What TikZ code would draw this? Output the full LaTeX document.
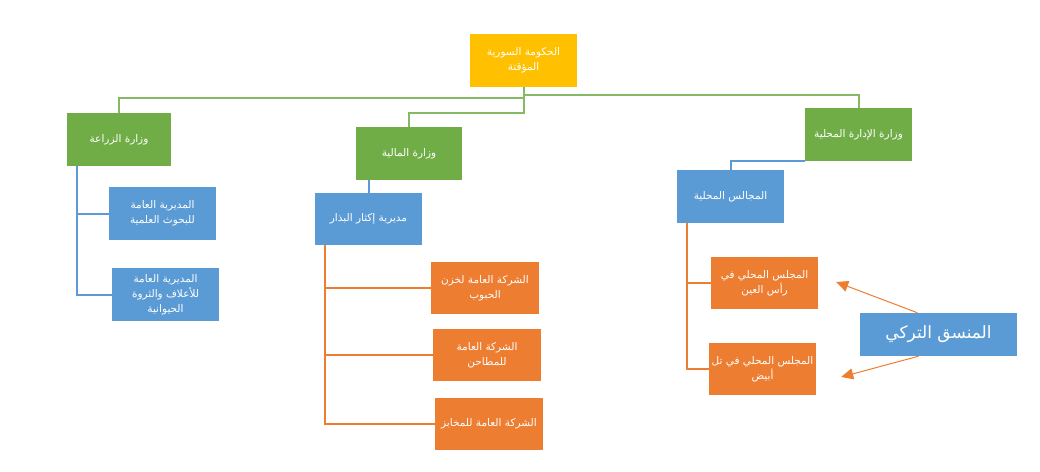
\documentclass[tikz,border=0pt]{standalone}
\usepackage{fontspec}
\usepackage{tikz}
\usetikzlibrary{calc,arrows.meta}
\TeXXeTstate=1
\newfontfamily\arabicfont[Script=Arabic]{DejaVu Sans}
\newcommand{\artext}[1]{\beginR #1\endR}
\definecolor{orgyellow}{HTML}{FFC000}
\definecolor{orggreen}{HTML}{70AD47}
\definecolor{orgblue}{HTML}{5B9BD5}
\definecolor{orgorange}{HTML}{ED7D31}

\begin{document}
\begin{tikzpicture}[x=1pt, y=-1pt,
    box/.style={minimum width=107pt, minimum height=53pt, inner sep=1pt, align=center,
                text=white, font=\arabicfont\fontsize{10.5}{15}\selectfont},
    yellowbox/.style={box, fill=orgyellow},
    greenbox/.style={box, fill=orggreen},
    bluebox/.style={box, fill=orgblue},
    orangebox/.style={box, fill=orgorange},
    gline/.style={draw=orggreen!85!white, line width=2pt},
    bline/.style={draw=orgblue, line width=2pt},
    oline/.style={draw=orgorange, line width=2pt},
    arr/.style={draw=orgorange, line width=1pt, -{Triangle[length=12pt,width=11pt]}}]
        \useasboundingbox (0,0) rectangle (1040,471);

        % Government node at the top
        \node[yellowbox] (gov) at (523.5,60.5) {\artext{الحكومة السورية}\\\artext{المؤقتة}};

        % Ministries
        \node[greenbox, minimum width=104pt] (agri) at (119,139.5) {\artext{وزارة الزراعة}};
        \node[greenbox, minimum width=106pt] (fin) at (409,153.5) {\artext{وزارة المالية}};
        \node[greenbox] (local) at (858.5,134.5) {\artext{وزارة الإدارة المحلية}};

        % Directorates and councils
        \node[bluebox] (research) at (162.5,213.5) {\artext{المديرية العامة}\\\artext{للبحوث العلمية}};
        \node[bluebox] (fodder) at (165.5,294.5) {\artext{المديرية العامة}\\\artext{للأعلاف والثروة}\\\artext{الحيوانية}};
        \node[bluebox, minimum height=52pt] (seeds) at (368.5,219) {\artext{مديرية إكثار البذار}};
        \node[bluebox] (councils) at (730.5,196.5) {\artext{المجالس المحلية}};

        % Companies
        \node[orangebox, minimum width=108pt, minimum height=52pt] (grain) at (485,288) {\artext{الشركة العامة لخزن}\\\artext{الحبوب}};
        \node[orangebox, minimum width=108pt, minimum height=52pt] (mills) at (487,355) {\artext{الشركة العامة}\\\artext{للمطاحن}};
        \node[orangebox, minimum width=108pt, minimum height=52pt] (bakery) at (489,424) {\artext{الشركة العامة للمخابز}};

        % Local councils
        \node[orangebox, minimum height=52pt] (rasain) at (764.5,283) {\artext{المجلس المحلي في}\\\artext{رأس العين}};
        \node[orangebox, minimum height=52pt] (telabyad) at (762.5,369) {\artext{المجلس المحلي في تل}\\\artext{أبيض}};

        % Turkish coordinator
        \node[bluebox, minimum width=157pt, minimum height=43pt, font=\arabicfont\fontsize{17}{20}\selectfont] (turk) at (938.5,334.5) {\artext{المنسق التركي}};

        % Green lines from the government to the ministries
        \draw[gline] (gov.south) -- ++(0,11) -| (agri.north);
        \draw[gline] (gov.south) -- ++(0,8) -| (local.north);
        \draw[gline] (gov.south) -- ++(0,26) -| (fin.north);

        % Blue lines from the ministries
        \draw[bline] ($(agri.south west)+(10,0)$) |- (research.west);
        \draw[bline] ($(agri.south west)+(10,0)$) |- (fodder.west);
        \draw[bline] (seeds.north |- fin.south) -- (seeds.north);
        \draw[bline] (local.south west) -| (councils.north);

        % Orange lines to the companies and councils
        \draw[oline] ($(seeds.south west)+(10,0)$) |- (grain.west);
        \draw[oline] ($(seeds.south west)+(10,0)$) |- (mills.west);
        \draw[oline] ($(seeds.south west)+(10,0)$) |- (bakery.west);
        \draw[oline] ($(councils.south west)+(10,0)$) |- (rasain.west);
        \draw[oline] ($(councils.south west)+(10,0)$) |- (telabyad.west);

        % Arrows from the coordinator
        \draw[arr] ($(turk.north)+(-21,0)$) -- ($(rasain.east)+(18,-1)$);
        \draw[arr] ($(turk.south)+(-20,0)$) -- ($(telabyad.east)+(25,8)$);
    \end{tikzpicture}
\end{document}
